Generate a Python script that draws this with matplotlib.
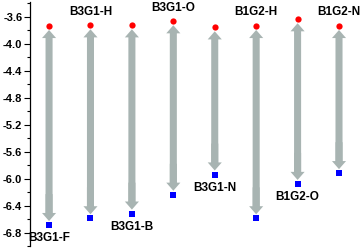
import matplotlib.pyplot as plt
from matplotlib.patches import FancyArrow
from matplotlib.ticker import MultipleLocator

# HOMO (red) / LUMO (blue) levels, eV
names = ["B3G1-F", "B3G1-H", "B3G1-B", "B3G1-O", "B3G1-N", "B1G2-H", "B1G2-O", "B1G2-N"]
top_vals = [-3.73, -3.72, -3.72, -3.66, -3.75, -3.73, -3.63, -3.73]
bottom_vals = [-6.69, -6.59, -6.52, -6.24, -5.94, -6.59, -6.08, -5.92]
label_above = [False, True, False, True, False, True, False, True]

plt.rcParams['font.family'] = ['Liberation Sans', 'DejaVu Sans']
plt.rcParams['font.weight'] = 'bold'

fig = plt.figure(figsize=(3.62, 2.48), dpi=100)
ax = fig.add_axes([30 / 362, 2 / 248, 332 / 362, 244 / 248])

arrow_color = '#a8b4b2'
for i, (t, b) in enumerate(zip(top_vals, bottom_vals)):
    t_tip = t - 0.065
    b_tip = b + 0.06
    # full arrow pointing up, then an overlapping short one pointing down
    ax.add_patch(FancyArrow(i, b_tip + 0.1, 0, t_tip - b_tip - 0.1, width=0.17,
                            head_width=0.34, head_length=0.12,
                            length_includes_head=True, color=arrow_color, lw=0))
    ax.add_patch(FancyArrow(i, b_tip + 0.4, 0, -0.4, width=0.17,
                            head_width=0.34, head_length=0.12,
                            length_includes_head=True, color=arrow_color, lw=0))

x = list(range(len(names)))
ax.plot(x, top_vals, 'o', color='red', markersize=4.5, markeredgewidth=0, zorder=3)
ax.plot(x, bottom_vals, 's', color='blue', markersize=3.8, markeredgewidth=0, zorder=3)

for i, name in enumerate(names):
    if label_above[i]:
        ax.annotate(name, (i, top_vals[i]), xytext=(0, 9.5), textcoords='offset points',
                    ha='center', va='center', fontsize=8.5, fontweight='bold')
    else:
        ax.annotate(name, (i, bottom_vals[i]), xytext=(0, -9.5), textcoords='offset points',
                    ha='center', va='center', fontsize=8.5, fontweight='bold')

ax.set_xlim(-0.46, 7.555)
ax.set_ylim(-7.0, -3.38)
ax.yaxis.set_minor_locator(MultipleLocator(0.2))
ax.set_yticks([-3.6, -4.0, -4.4, -4.8, -5.2, -5.6, -6.0, -6.4, -6.8])
ax.set_yticklabels(['-3.6', '-4.0', '-4.4', '-4.8', '-5.2', '-5.6', '-6.0', '-6.4', '-6.8'])
ax.tick_params(axis='y', which='major', length=4, width=0.8, labelsize=8, pad=1.5)
ax.tick_params(axis='y', which='minor', length=2.5, width=0.8)
ax.set_xticks([])
for s in ['top', 'right', 'bottom']:
    ax.spines[s].set_visible(False)
ax.spines['left'].set_linewidth(0.9)

fig.savefig('out.png', dpi=100)
